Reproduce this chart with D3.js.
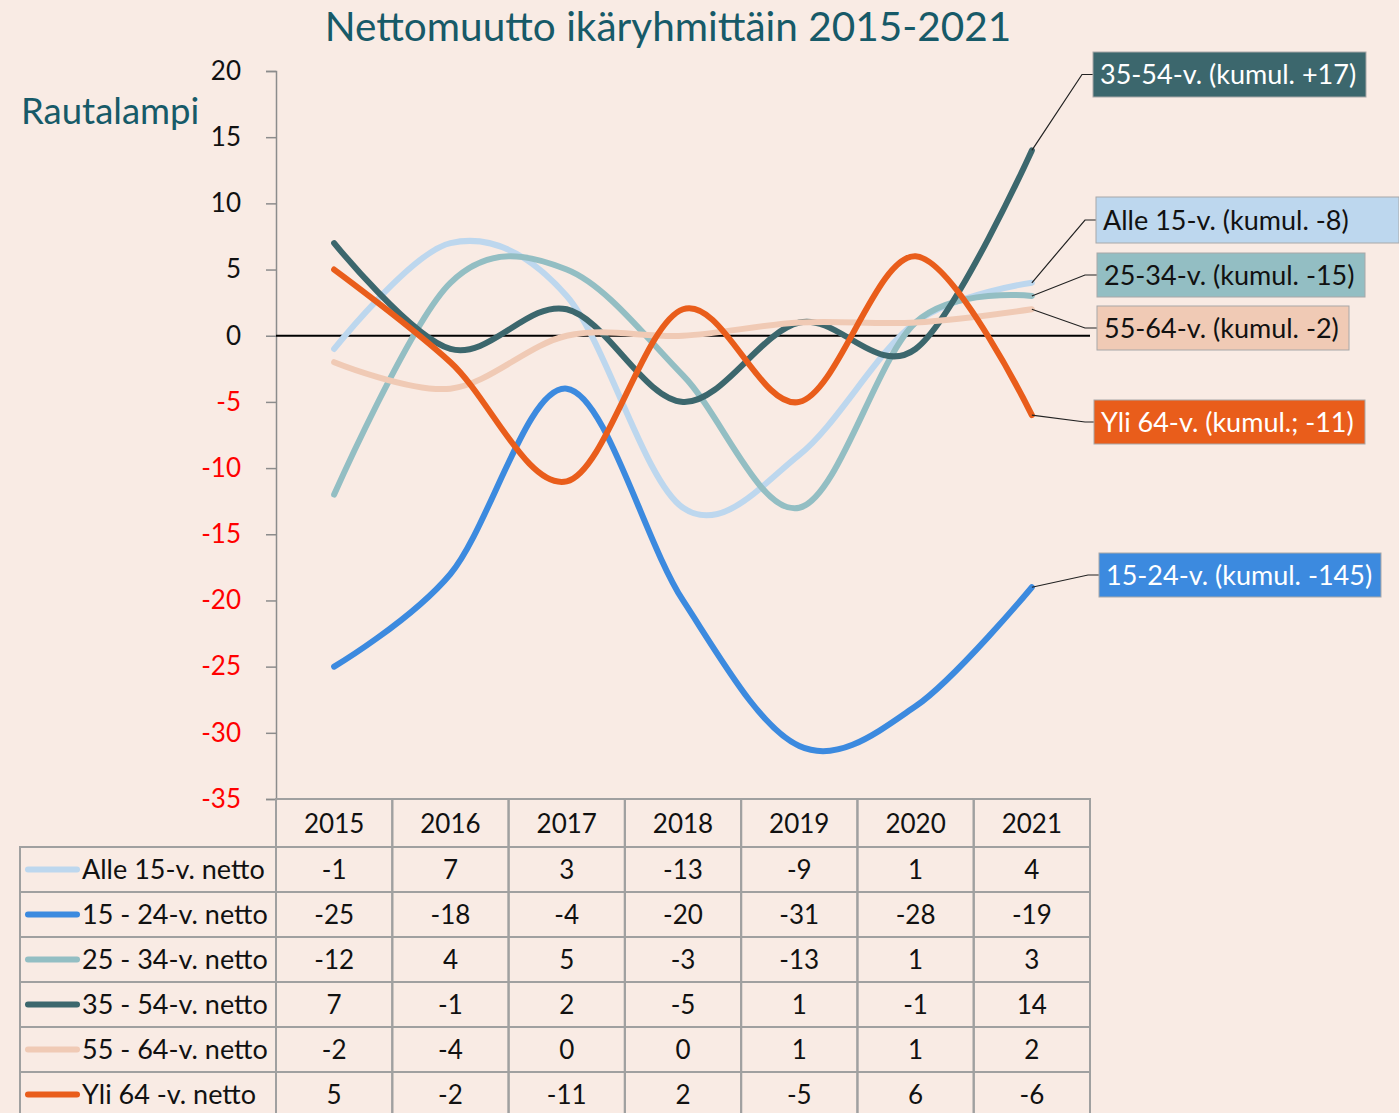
<!DOCTYPE html>
<html>
<head>
<meta charset="utf-8">
<script src="https://cdn.jsdelivr.net/npm/d3@7"></script>
<style>
  body { margin: 0; background: #f9ebe4; }
  svg { display: block; font-family: Lato, "Open Sans", sans-serif; }
</style>
</head>
<body>
<svg id="chart"></svg>
<script>
var years = ["2015", "2016", "2017", "2018", "2019", "2020", "2021"]
var seriesNames = ["Alle 15-v. netto", "15 - 24-v. netto", "25 - 34-v. netto", "35 - 54-v. netto", "55 - 64-v. netto", "Yli 64 -v. netto"]
var alle15 = [-1, 7, 3, -13, -9, 1, 4]
var v15_24 = [-25, -18, -4, -20, -31, -28, -19]
var v25_34 = [-12, 4, 5, -3, -13, 1, 3]
var v35_54 = [7, -1, 2, -5, 1, -1, 14]
var v55_64 = [-2, -4, 0, 0, 1, 1, 2]
var yli64 = [5, -2, -11, 2, -5, 6, -6]
var endLabels = ["Alle 15-v. (kumul. -8)", "15-24-v. (kumul. -145)", "25-34-v. (kumul. -15)", "35-54-v. (kumul. +17)", "55-64-v. (kumul. -2)", "Yli 64-v. (kumul.; -11)"]
var yTicks = [20, 15, 10, 5, 0, -5, -10, -15, -20, -25, -30, -35]

var colors = ["#bdd7ee", "#3c8adf", "#93bec3", "#3c676d", "#f0cab5", "#e95d1b"]
var labelText = ["#111", "#fff", "#111", "#fff", "#111", "#fff"]
// box positions for the end labels (x, y, width, height)
var labelBoxes = [
    {x: 1096, y: 197, w: 303, h: 46},
    {x: 1099, y: 553, w: 282, h: 44},
    {x: 1097, y: 253, w: 268, h: 44},
    {x: 1093, y: 52, w: 273, h: 45},
    {x: 1097, y: 306, w: 252, h: 44},
    {x: 1094, y: 400, w: 271, h: 44}
]
var elbowX = [1085, 1088, 1085, 1082, 1085, 1085]

var allSeries = [alle15, v15_24, v25_34, v35_54, v55_64, yli64]

var dims = {
    width: 1399,
    height: 1113,
    plot: {left: 276, right: 1090, top: 71, bottom: 799},
    tableLeft: 20,
    headerH: 48,
    rowH: 45
}

var svg = d3.select("#chart")
            .attr("width", dims.width)
            .attr("height", dims.height)

svg.append("rect")
   .attr("width", dims.width)
   .attr("height", dims.height)
   .attr("fill", "#f9ebe4")

var xScale = d3.scaleBand()
               .domain(years)
               .range([dims.plot.left, dims.plot.right])

var yScale = d3.scaleLinear()
               .domain([20, -35])
               .range([dims.plot.top, dims.plot.bottom])

var xMid = d => xScale(d) + xScale.bandwidth() / 2

// title
svg.append("text")
   .attr("x", 668)
   .attr("y", 41)
   .attr("text-anchor", "middle")
   .attr("font-size", "40.5px")
   .attr("fill", "#175a68")
   .text("Nettomuutto ikäryhmittäin 2015-2021")

svg.append("text")
   .attr("x", 21)
   .attr("y", 124)
   .attr("font-size", "36.5px")
   .attr("fill", "#175a68")
   .text("Rautalampi")

// y axis
var yAxisGen = d3.axisLeft(yScale).tickValues(yTicks).tickSize(10).tickPadding(25)
                 .tickFormat(d => String(d))
var yAxis = svg.append("g")
               .attr("transform", `translate(${dims.plot.left},0)`)
               .call(yAxisGen)
yAxis.select(".domain").attr("stroke", "#8c8c8c").attr("stroke-width", 1.5)
yAxis.selectAll(".tick line").attr("stroke", "#8c8c8c").attr("stroke-width", 1.5)
yAxis.selectAll(".tick text")
     .attr("font-size", "26px")
     .attr("font-family", "Lato, sans-serif")
     .attr("fill", d => d < 0 ? "#ff0000" : "#111")

// zero line
svg.append("line")
   .attr("x1", dims.plot.left)
   .attr("x2", dims.plot.right)
   .attr("y1", yScale(0))
   .attr("y2", yScale(0))
   .attr("stroke", "#000")
   .attr("stroke-width", 2)

// lines
var lineGen = d3.line()
                .x((d, i) => xMid(years[i]))
                .y(d => yScale(d))
                .curve(d3.curveCardinal.tension(0))

allSeries.forEach(function(s, k) {
    svg.append("path")
       .attr("d", lineGen(s))
       .attr("fill", "none")
       .attr("stroke", colors[k])
       .attr("stroke-width", 6)
       .attr("stroke-linecap", "round")
})

// end labels with leader lines
allSeries.forEach(function(s, k) {
    var last = s[s.length - 1]
    var b = labelBoxes[k]
    var px = xMid(years[years.length - 1])
    var py = yScale(last)
    svg.append("polyline")
       .attr("points", `${px},${py} ${elbowX[k]},${b.y + b.h / 2} ${b.x},${b.y + b.h / 2}`)
       .attr("fill", "none")
       .attr("stroke", "#222")
       .attr("stroke-width", 1.2)
    svg.append("rect")
       .attr("x", b.x)
       .attr("y", b.y)
       .attr("width", b.w)
       .attr("height", b.h)
       .attr("fill", colors[k])
       .attr("stroke", "#a8a8a8")
       .attr("stroke-width", 1)
    svg.append("text")
       .attr("x", b.x + 7)
       .attr("y", b.y + b.h / 2 + 9.5)
       .attr("font-size", "27px")
       .attr("fill", labelText[k])
       .text(endLabels[k])
})

// data table
var tableTop = dims.plot.bottom
var gridColor = "#a0a0a0"
var table = svg.append("g")

// header
years.forEach(function(y) {
    table.append("rect")
         .attr("x", xScale(y))
         .attr("y", tableTop)
         .attr("width", xScale.bandwidth())
         .attr("height", dims.headerH)
         .attr("fill", "none")
         .attr("stroke", gridColor)
         .attr("stroke-width", 2)
    table.append("text")
         .attr("x", xMid(y))
         .attr("y", tableTop + dims.headerH / 2 + 9.5)
         .attr("text-anchor", "middle")
         .attr("font-size", "26px")
         .attr("fill", "#111")
         .text(y)
})

allSeries.forEach(function(s, k) {
    var rowY = tableTop + dims.headerH + k * dims.rowH
    table.append("rect")
         .attr("x", dims.tableLeft)
         .attr("y", rowY)
         .attr("width", dims.plot.left - dims.tableLeft)
         .attr("height", dims.rowH)
         .attr("fill", "none")
         .attr("stroke", gridColor)
         .attr("stroke-width", 2)
    table.append("line")
         .attr("x1", 28)
         .attr("x2", 77)
         .attr("y1", rowY + dims.rowH / 2)
         .attr("y2", rowY + dims.rowH / 2)
         .attr("stroke", colors[k])
         .attr("stroke-width", 6)
         .attr("stroke-linecap", "round")
    table.append("text")
         .attr("x", 82)
         .attr("y", rowY + dims.rowH / 2 + 9.5)
         .attr("font-size", "27px")
         .attr("fill", "#111")
         .text(seriesNames[k])
    s.forEach(function(v, i) {
        table.append("rect")
             .attr("x", xScale(years[i]))
             .attr("y", rowY)
             .attr("width", xScale.bandwidth())
             .attr("height", dims.rowH)
             .attr("fill", "none")
             .attr("stroke", gridColor)
             .attr("stroke-width", 2)
        table.append("text")
             .attr("x", xMid(years[i]))
             .attr("y", rowY + dims.rowH / 2 + 9.5)
             .attr("text-anchor", "middle")
             .attr("font-size", "26px")
             .attr("fill", "#111")
             .text(v)
    })
})
</script>
</body>
</html>
